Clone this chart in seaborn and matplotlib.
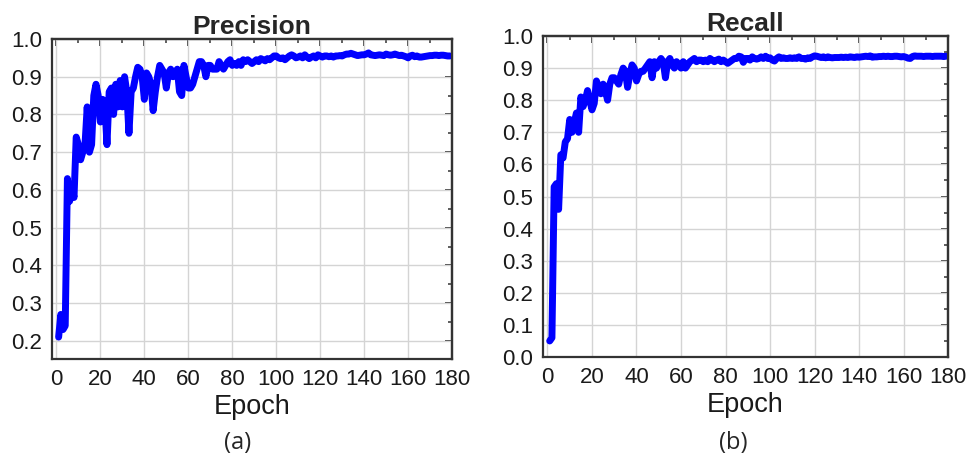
import matplotlib
matplotlib.use("Agg")
from matplotlib import pyplot as plt
from matplotlib.ticker import MultipleLocator, FormatStrFormatter
import seaborn as sns

# Epoch numbers shared by both panels
epochs = list(range(1, 180))

# Precision per epoch
precision = [
    0.21, 0.27, 0.23, 0.24, 0.63, 0.57, 0.61, 0.58, 0.74, 0.72,
    0.68, 0.70, 0.72, 0.82, 0.70, 0.72, 0.85, 0.88, 0.85, 0.78,
    0.84, 0.83, 0.72, 0.86, 0.87, 0.80, 0.88, 0.82, 0.89, 0.82,
    0.90, 0.86, 0.75, 0.86, 0.87, 0.90, 0.925, 0.92, 0.90, 0.84,
    0.91, 0.90, 0.88, 0.81, 0.86, 0.90, 0.93, 0.92, 0.91, 0.87,
    0.91, 0.92, 0.90, 0.91, 0.92, 0.86, 0.85, 0.93, 0.90, 0.87,
    0.87, 0.88, 0.90, 0.92, 0.94, 0.94, 0.93, 0.90, 0.93, 0.93,
    0.92, 0.92, 0.92, 0.94, 0.93, 0.92, 0.93, 0.94, 0.945, 0.93,
    0.935, 0.93, 0.94, 0.93, 0.945, 0.94, 0.945, 0.94, 0.935, 0.94,
    0.945, 0.94, 0.948, 0.945, 0.942, 0.948, 0.945, 0.95, 0.955, 0.955,
    0.95, 0.948, 0.95, 0.945, 0.95, 0.955, 0.958, 0.955, 0.95, 0.952,
    0.955, 0.95, 0.958, 0.952, 0.948, 0.952, 0.955, 0.95, 0.958, 0.955,
    0.952, 0.955, 0.955, 0.953, 0.955, 0.952, 0.955, 0.955, 0.956, 0.955,
    0.958, 0.96, 0.96, 0.962, 0.96, 0.958, 0.956, 0.957, 0.958, 0.958,
    0.96, 0.963, 0.958, 0.957, 0.956, 0.957, 0.958, 0.957, 0.956, 0.96,
    0.958, 0.957, 0.958, 0.96, 0.958, 0.956, 0.957, 0.955, 0.953, 0.95,
    0.955, 0.957, 0.953, 0.955, 0.952, 0.952, 0.953, 0.954, 0.955, 0.956,
    0.956, 0.957, 0.957, 0.956, 0.957, 0.957, 0.956, 0.955, 0.955,
]

# Recall per epoch
recall = [
    0.05, 0.06, 0.53, 0.54, 0.46, 0.63, 0.62, 0.67, 0.68, 0.74,
    0.70, 0.73, 0.76, 0.70, 0.81, 0.78, 0.80, 0.83, 0.80, 0.77,
    0.79, 0.86, 0.84, 0.82, 0.85, 0.83, 0.80, 0.85, 0.87, 0.87,
    0.86, 0.85, 0.88, 0.90, 0.89, 0.84, 0.88, 0.91, 0.90, 0.86,
    0.88, 0.89, 0.89, 0.90, 0.91, 0.92, 0.87, 0.92, 0.90, 0.92,
    0.93, 0.92, 0.87, 0.92, 0.93, 0.91, 0.90, 0.92, 0.91, 0.90,
    0.92, 0.90, 0.91, 0.92, 0.925, 0.93, 0.92, 0.925, 0.925, 0.92,
    0.925, 0.92, 0.93, 0.925, 0.92, 0.925, 0.928, 0.92, 0.925, 0.92,
    0.915, 0.92, 0.925, 0.93, 0.93, 0.937, 0.935, 0.918, 0.93, 0.93,
    0.925, 0.935, 0.93, 0.928, 0.93, 0.935, 0.93, 0.937, 0.93, 0.932,
    0.925, 0.922, 0.93, 0.935, 0.93, 0.932, 0.93, 0.93, 0.932, 0.93,
    0.932, 0.93, 0.935, 0.93, 0.93, 0.928, 0.932, 0.93, 0.935, 0.938,
    0.937, 0.935, 0.933, 0.935, 0.932, 0.935, 0.933, 0.932, 0.933, 0.933,
    0.933, 0.934, 0.933, 0.934, 0.933, 0.935, 0.934, 0.933, 0.935, 0.934,
    0.935, 0.936, 0.937, 0.936, 0.938, 0.934, 0.935, 0.935, 0.936, 0.936,
    0.937, 0.936, 0.937, 0.936, 0.936, 0.937, 0.937, 0.936, 0.935, 0.936,
    0.934, 0.931, 0.93, 0.936, 0.938, 0.937, 0.937, 0.937, 0.936, 0.937,
    0.937, 0.937, 0.936, 0.937, 0.937, 0.937, 0.937, 0.936, 0.937,
]

titles = ["Precision", "Recall"]
panel_labels = ["(a)", "(b)"]

FRAME = '#333333'


def style_axes(ax, ylim, title):
    """ Origin-like frame: grid, outward ticks bottom/left, inward top/right """
    ax.set_xlim(-2, 180)
    ax.set_ylim(*ylim)
    ax.xaxis.set_major_locator(MultipleLocator(20))
    ax.xaxis.set_minor_locator(MultipleLocator(10))
    ax.yaxis.set_major_locator(MultipleLocator(0.1))
    ax.yaxis.set_minor_locator(MultipleLocator(0.05))
    ax.yaxis.set_major_formatter(FormatStrFormatter('%.1f'))
    ax.grid(True, which='major', color='#d4d4d4', linewidth=1.0)
    ax.set_axisbelow(True)
    for s in ax.spines.values():
        s.set_color(FRAME)
        s.set_linewidth(1.6)
    ax.tick_params(which='major', direction='out', length=5, width=1.3,
                   color=FRAME, labelsize=16, pad=2, labelcolor='#1a1a1a')
    ax.tick_params(which='minor', direction='out', length=3, width=1.1,
                   color=FRAME)

    # top and right ticks point inward
    top = ax.secondary_xaxis('top')
    top.xaxis.set_major_locator(MultipleLocator(20))
    top.xaxis.set_minor_locator(MultipleLocator(10))
    top.tick_params(which='major', direction='in', length=5, width=1.3,
                    color=FRAME, labeltop=False)
    top.tick_params(which='minor', direction='in', length=3, width=1.1,
                    color=FRAME)
    right = ax.secondary_yaxis('right')
    right.yaxis.set_major_locator(MultipleLocator(0.1))
    right.yaxis.set_minor_locator(MultipleLocator(0.05))
    right.tick_params(which='major', direction='in', length=5, width=1.3,
                      color=FRAME, labelright=False)
    right.tick_params(which='minor', direction='in', length=3, width=1.1,
                      color=FRAME)
    for sec in (top, right):
        for s in sec.spines.values():
            s.set_color(FRAME)
            s.set_linewidth(1.6)

    ax.set_title(title, fontsize=19, fontweight='bold', pad=3)
    ax.set_xlabel('Epoch', fontsize=19.5, labelpad=3, color='#1a1a1a')
    ax.set_ylabel('')


def main():
    sns.set_style("white")
    plt.rcParams['font.family'] = ['Liberation Sans', 'DejaVu Sans']

    fig = plt.figure(figsize=(9.69, 4.58), dpi=100)
    ax_p = fig.add_axes([0.0537, 0.2162, 0.4128, 0.6987])
    ax_r = fig.add_axes([0.5604, 0.2205, 0.4180, 0.7009])

    sns.lineplot(x=epochs, y=precision, ax=ax_p, color='#0000ff',
                 linewidth=5, solid_joinstyle='round', solid_capstyle='round')
    sns.lineplot(x=epochs, y=recall, ax=ax_r, color='#0000ff',
                 linewidth=5, solid_joinstyle='round', solid_capstyle='round')

    style_axes(ax_p, (0.152, 1.0), titles[0])
    style_axes(ax_r, (0.0, 1.0), titles[1])

    fig.text(238 / 969, 1 - 443 / 458, panel_labels[0], ha='center',
             va='center', fontsize=17, family=['Open Sans', 'DejaVu Sans'])
    fig.text(733 / 969, 1 - 443 / 458, panel_labels[1], ha='center',
             va='center', fontsize=17, family=['Open Sans', 'DejaVu Sans'])

    fig.savefig('out.png', dpi=100, facecolor='white')


if __name__ == "__main__":
    main()
